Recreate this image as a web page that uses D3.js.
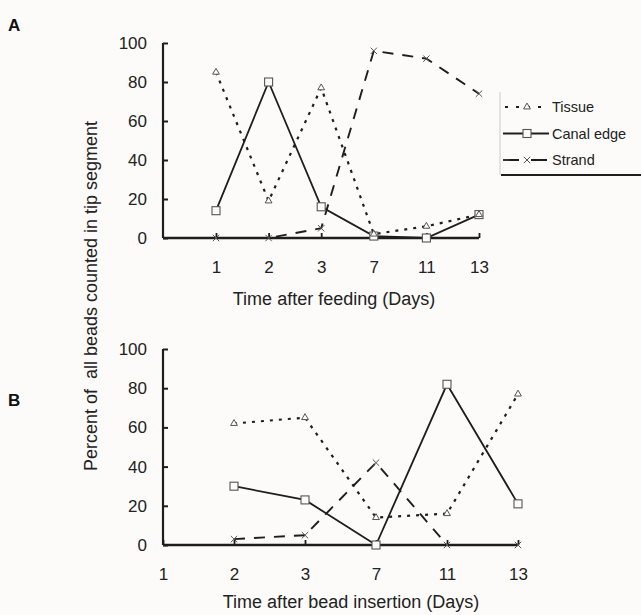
<!DOCTYPE html>
<html><head><meta charset="utf-8">
<script src="https://cdn.jsdelivr.net/npm/d3@7"></script>
<style>body{margin:0;background:#fdfbf9}svg{display:block}</style>
</head><body>
<script>
const categories = ["1","2","3","7","11","13"];
const yTicks = [0,20,40,60,80,100];
const seriesNames = ["Tissue","Canal edge","Strand"];
const tissueA = [85,19,77,2,6,12];
const canalA  = [14,80,16,1,0,12];
const strandA = [0,0,5,96,92,74];
const tissueB = [null,62,65,14,16,77];
const canalB  = [null,30,23,0,82,21];
const strandB = [null,3,5,42,0,0];

const W=641,H=615, ink="#1e1e1e", font="'Liberation Sans', Arial, sans-serif";
const svg=d3.select("body").append("svg").attr("width",W).attr("height",H).style("background","#fdfbf9");

const styles={
  "Tissue":{dash:"3,6",width:2.2,marker:"tri"},
  "Canal edge":{dash:null,width:1.8,marker:"sq"},
  "Strand":{dash:"11,9",width:1.9,marker:"x"}
};

function marker(g,type,x,y){
  if(type==="tri"){
    g.append("path").attr("d",d3.symbol(d3.symbolTriangle,20)()).attr("transform",`translate(${x},${y})`)
     .attr("fill","#fdfbf9").attr("stroke","#555").attr("stroke-width",1);
  } else if(type==="sq"){
    g.append("rect").attr("x",x-4).attr("y",y-4).attr("width",8).attr("height",8)
     .attr("fill","#fdfbf9").attr("stroke","#555").attr("stroke-width",1.1);
  } else {
    g.append("path").attr("d",d3.symbol(d3.symbolX,28)()).attr("transform",`translate(${x},${y})`)
     .attr("fill","none").attr("stroke","#555").attr("stroke-width",1);
  }
}

function panel(cfg){
  const g=svg.append("g");
  const x=d3.scalePoint().domain(categories).range(cfg.xr);
  const y=d3.scaleLinear().domain([0,100]).range(cfg.yr);
  const ya=d3.axisLeft(y).tickValues(yTicks).tickSize(-5).tickPadding(16);
  const yg=g.append("g").attr("transform",`translate(${cfg.x0},0)`).call(ya);
  yg.select(".domain").attr("d",`M0,${y(100)}V${y(0)}`).attr("stroke",ink).attr("stroke-width",2.2);
  yg.selectAll(".tick line").attr("stroke",ink).attr("stroke-width",2);
  yg.selectAll("text").attr("font-family",font).attr("font-size",17).attr("fill","#222");
  const xa=d3.axisBottom(x).tickSize(-5).tickPadding(cfg.tpad);
  const xg=g.append("g").attr("transform",`translate(0,${y(0)})`).call(xa);
  xg.select(".domain").attr("d",`M${cfg.x0},0H${cfg.xr[1]}`).attr("stroke",ink).attr("stroke-width",2.4);
  xg.selectAll(".tick line").attr("stroke",ink).attr("stroke-width",1.8);
  xg.selectAll("text").attr("font-family",font).attr("font-size",17).attr("fill","#222");
  g.append("text").attr("x",cfg.tx).attr("y",cfg.ty).attr("text-anchor","middle")
   .attr("font-family",font).attr("font-size",18).attr("fill","#222").text(cfg.title);
  const data=[[seriesNames[0],cfg.tissue],[seriesNames[1],cfg.canal],[seriesNames[2],cfg.strand]];
  const line=d3.line().defined(d=>d!=null).x((d,i)=>x(categories[i])).y(d=>y(d));
  const order=[1,2,0];
  order.forEach(k=>{
    const [name,vals]=data[k]; const s=styles[name];
    g.append("path").datum(vals).attr("d",line).attr("fill","none").attr("stroke",ink)
      .attr("stroke-width",s.width).attr("stroke-dasharray",s.dash);
  });
  order.forEach(k=>{
    const [name,vals]=data[k]; const s=styles[name];
    vals.forEach((v,i)=>{ if(v!=null) marker(g,s.marker,x(categories[i]),y(v)); });
  });
  g.append("text").attr("x",8).attr("y",cfg.ly).attr("font-family",font).attr("font-weight","bold")
   .attr("font-size",17).attr("fill","#111").text(cfg.label);
}

panel({x0:163,xr:[216,479],yr:[238,43],tpad:23,tx:334,ty:305,title:"Time after feeding (Days)",
  tissue:tissueA,canal:canalA,strand:strandA,label:"A",ly:31});
panel({x0:163,xr:[163,518],yr:[545,349],tpad:23,tx:351,ty:608,title:"Time after bead insertion (Days)",
  tissue:tissueB,canal:canalB,strand:strandB,label:"B",ly:406});

svg.append("text").attr("transform","translate(97,296) rotate(-90)").attr("text-anchor","middle")
  .attr("font-family",font).attr("font-size",18).attr("fill","#222")
  .attr("xml:space","preserve").style("white-space","pre").text("Percent of  all beads counted in tip segment");

const lg=svg.append("g");
lg.append("line").attr("x1",500).attr("x2",500).attr("y1",92).attr("y2",175).attr("stroke","#ccc").attr("stroke-width",1);
lg.append("line").attr("x1",501).attr("x2",641).attr("y1",175).attr("y2",175).attr("stroke",ink).attr("stroke-width",2);
const ly=d3.scalePoint().domain(seriesNames).range([107,160]);
seriesNames.forEach(n=>{
  const s=styles[n], yy=ly(n);
  lg.append("line").attr("x1",n==="Tissue"?505:503).attr("x2",549).attr("y1",yy).attr("y2",yy)
    .attr("stroke",ink).attr("stroke-width",n==="Tissue"?2:1.8)
    .attr("stroke-dasharray",n==="Tissue"?"3,8":(n==="Strand"?"16,12":null));
  marker(lg,s.marker,527,yy);
  lg.append("text").attr("x",552).attr("y",yy+5).attr("font-family",font).attr("font-size",14.5)
    .attr("fill","#222").text(n);
});
</script>
</body></html>
